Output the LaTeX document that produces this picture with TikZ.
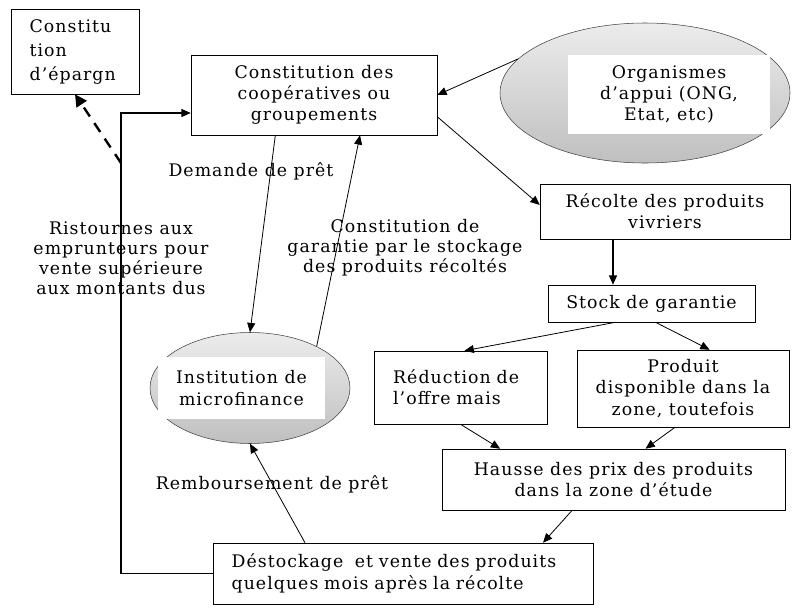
\documentclass[tikz,border=0pt]{standalone}
\usepackage{fontspec}
\setmainfont[LetterSpace=6]{DejaVu Serif}
\usetikzlibrary{arrows.meta,shapes.geometric}
\tikzset{
  box/.style={draw, rectangle, inner sep=0pt, align=center, font=\fontsize{13}{16}\selectfont},
  bubble/.style={draw=black!75, ellipse, inner sep=0pt, top color=gray!15, bottom color=gray!50},
  plate/.style={fill=white, inner sep=0pt, align=center, font=\fontsize{13}{16}\selectfont},
  lbl/.style={align=center, inner sep=0pt, font=\fontsize{13}{15}\selectfont},
  flow/.style={->, line width=0.6pt},
}
\begin{document}
\begin{tikzpicture}[x=0.75pt, y=-0.75pt, >={Triangle[length=7pt,width=6pt]}]
\useasboundingbox (0,0) rectangle (792,607);
\node [box, minimum width=96pt, minimum height=63.75pt, text width=68pt, align=left, font=\fontsize{13}{18}\selectfont] (epargne) at (75,51.5) {Constitu\\tion\\d’épargn};
\node [box, minimum width=184.5pt, minimum height=60pt] (coop) at (314,95) {Constitution des\\coopératives ou\\groupements};
\node [bubble, minimum width=217.5pt, minimum height=105pt] (organ) at (645,93) {};
\node [plate, minimum width=151.5pt, minimum height=59.25pt] (organtxt) at (669,94.5) {Organismes\\d’appui (ONG,\\Etat, etc)};
\node [box, minimum width=187.5pt, minimum height=41.25pt] (recolte) at (665,211.5) {Récolte des produits\\vivriers};
\node [box, minimum width=155.25pt, minimum height=27.75pt] (stock) at (651.5,303.5) {Stock de garantie};
\node [box, minimum width=129.75pt, minimum height=54.75pt, text width=101pt, align=left] (reduc) at (460.5,387.5) {Réduction de\\l’offre mais};
\node [box, minimum width=159pt, minimum height=57.75pt] (produit) at (683,388.5) {Produit\\disponible dans la\\zone, toutefois};
\node [box, minimum width=257.25pt, minimum height=45.75pt] (hausse) at (613.5,479.5) {Hausse des prix des produits\\dans la zone d’étude};
\node [box, minimum width=285pt, minimum height=45.75pt, text width=257pt, align=left] (destock) at (403,573.5) {Déstockage\ \ et vente des produits\\quelques mois après la récolte};
\node [bubble, minimum width=150pt, minimum height=83.25pt] (microfin) at (250,388) {};
\node [plate, minimum width=125.25pt, minimum height=46.5pt] (microtxt) at (241.5,388) {Institution de\\microfinance};
\node [lbl] (demande) at (251,171) {Demande de prêt};
\node [lbl] (ristourne) at (121,258) {Ristournes aux\\emprunteurs pour\\vente supérieure\\aux montants dus};
\node [lbl] (garantie) at (405,248) {Constitution de\\garantie par le stockage\\des produits récoltés};
\node [lbl] (rembours) at (272,484) {Remboursement de prêt};
\coordinate (loop) at (121,113);
\coordinate (dash) at (121,163);
\draw [flow] (organ.165) -- (coop.east);
\draw [flow] (coop.-10) -- (recolte.177);
\draw [flow, line width=1pt] ([xshift=-39pt]recolte.south) -- ([xshift=-39pt]recolte.south |- stock.north);
\draw [flow] ([xshift=-27pt]stock.south) -- ([xshift=3pt]reduc.north);
\draw [flow] ([xshift=3pt]stock.south) -- ([xshift=20pt]produit.north);
\draw [flow] (reduc.south) -- ([xshift=-85pt]hausse.north);
\draw [flow] ([xshift=-6pt]produit.south) -- ([xshift=24pt]hausse.north);
\draw [flow] ([xshift=-31pt]hausse.south) -- ([xshift=105pt]destock.north);
\draw [flow] ([xshift=-73.5pt]destock.north) -- (microfin.south);
\draw [flow] ([xshift=-29pt]coop.south) -- (microfin.north);
\draw [flow] (microfin.32) -- ([xshift=34.5pt]coop.south);
\draw [flow, line width=0.8pt] (destock.west) -| (loop) -- (loop -| coop.west);
\draw [-{Triangle[length=9pt,width=9pt]}, line width=1.8pt, dash pattern=on 8pt off 6pt] (dash) -- (epargne.south);
\end{tikzpicture}
\end{document}
